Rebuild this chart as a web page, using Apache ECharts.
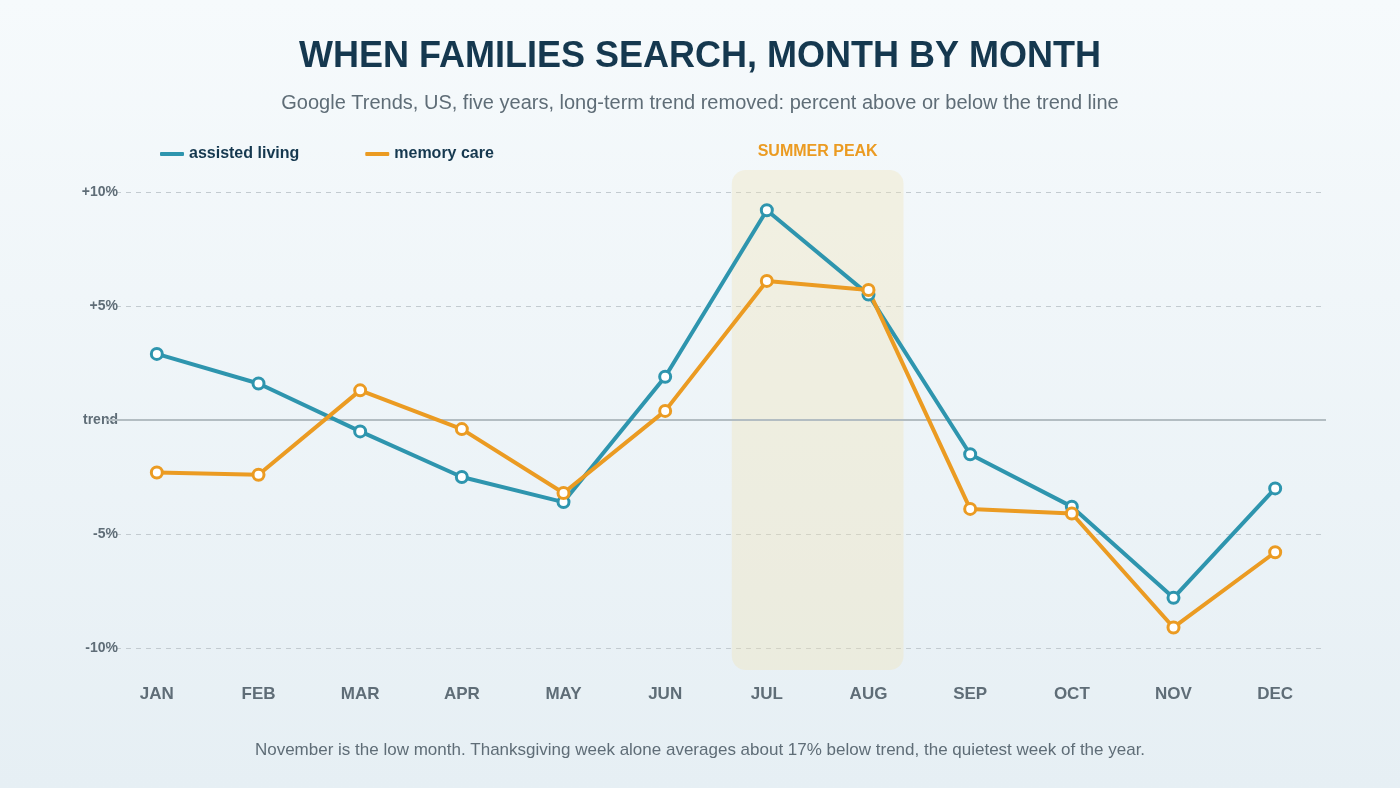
<!DOCTYPE html>
<html><head><meta charset="utf-8">
<script src="https://cdn.jsdelivr.net/npm/echarts@6/dist/echarts.min.js"></script>
<style>html,body{margin:0;padding:0;}#main{width:1400px;height:788px;background:linear-gradient(#f6fafc,#e6eff4);}</style>
</head><body><div id="main"></div>
<script>
var months = ['JAN','FEB','MAR','APR','MAY','JUN','JUL','AUG','SEP','OCT','NOV','DEC'];
var assisted = [2.9, 1.6, -0.5, -2.5, -3.6, 1.9, 9.2, 5.5, -1.5, -3.8, -7.8, -3.0];
var memory = [-2.3, -2.4, 1.3, -0.4, -3.2, 0.4, 6.1, 5.7, -3.9, -4.1, -9.1, -5.8];
var yTicks = {'10':'+10%','5':'+5%','0':'trend','-5':'-5%','-10':'-10%'};

var myChart = echarts.init(document.getElementById('main'));
function ser(name, data, color){
    return {
        name: name, type: 'line', data: data,
        symbol: 'circle', symbolSize: 11,
        lineStyle: {color: color, width: 4},
        itemStyle: {color: '#fff', borderColor: color, borderWidth: 3},
        z: 5
    };
}
var option = {
    color: ['#2e95ae', '#eb9b22'],
    title: [
        {text: 'WHEN FAMILIES SEARCH, MONTH BY MONTH', left: 'center', top: 34,
         textStyle: {fontSize: 36, fontWeight: 'bold', color: '#15384f', fontFamily: 'Liberation Sans'}},
        {text: 'Google Trends, US, five years, long-term trend removed: percent above or below the trend line', left: 'center', top: 88,
         textStyle: {fontSize: 20, fontWeight: 'normal', color: '#5f6d77', fontFamily: 'Liberation Sans'}},
        {text: 'November is the low month. Thanksgiving week alone averages about 17% below trend, the quietest week of the year.', left: 'center', top: 737,
         textStyle: {fontSize: 17, fontWeight: 'normal', color: '#5f6d77', fontFamily: 'Liberation Sans'}}
    ],
    legend: {
        left: 155, top: 141, itemGap: 66, itemWidth: 24, itemHeight: 4,
        icon: 'roundRect',
        textStyle: {fontSize: 16, fontWeight: 'bold', color: '#15384f', fontFamily: 'Liberation Sans'},
        data: [{name: 'assisted living', itemStyle: {color: '#2e95ae', borderWidth: 0}},
               {name: 'memory care', itemStyle: {color: '#eb9b22', borderWidth: 0}}]
    },
    grid: {left: 106, right: 74, top: 192, bottom: 140},
    xAxis: {
        type: 'category', data: months, boundaryGap: true,
        axisLine: {show: false}, axisTick: {show: false},
        axisLabel: {margin: 38, fontSize: 17, fontWeight: 'bold', color: '#5f6d77', fontFamily: 'Liberation Sans'}
    },
    yAxis: {
        type: 'value', min: -10, max: 10, interval: 5,
        axisLine: {show: false}, axisTick: {show: false},
        axisLabel: {margin: 0, fontSize: 14, fontWeight: 'bold', color: '#5f6d77', fontFamily: 'Liberation Sans',
                    padding: [0, -12, 0, 0],
                    formatter: function(v){ return yTicks[String(v)] || ''; }},
        splitLine: {show: true, lineStyle: {color: '#c3cbd0', type: [5, 5], width: 1}}
    },
    series: [
        ser('assisted living', assisted, '#2e95ae'),
        ser('memory care', memory, '#eb9b22'),
        {type: 'line', data: [], markLine: {silent: true, symbol: 'none', label: {show: false},
            lineStyle: {color: '#b3bdc2', type: 'solid', width: 2}, data: [{yAxis: 0}]}}
    ]
};
myChart.setOption(option);

var x0 = myChart.convertToPixel({xAxisIndex: 0}, 'JUL');
var x1 = myChart.convertToPixel({xAxisIndex: 0}, 'AUG');
myChart.setOption({
    graphic: [
        {type: 'rect', z: 0, shape: {x: x0 - 35, y: 170, width: x1 - x0 + 70, height: 500, r: 14},
         style: {fill: 'rgba(240,225,180,0.35)'}},
        {type: 'text', z: 1, x: (x0 + x1) / 2, y: 152,
         style: {text: 'SUMMER PEAK', fill: '#eb9b22', fontSize: 16, fontWeight: 'bold', fontFamily: 'Liberation Sans',
                 align: 'center', verticalAlign: 'middle'}}
    ]
});
</script></body></html>
